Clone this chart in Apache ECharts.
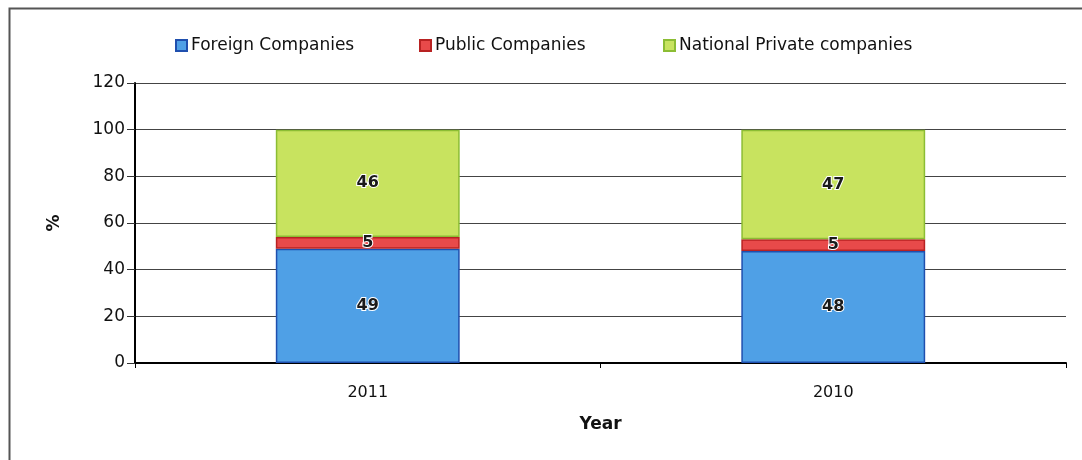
<!DOCTYPE html>
<html>
<head>
<meta charset="utf-8">
<script src="https://cdn.jsdelivr.net/npm/echarts@6/dist/echarts.min.js"></script>
<style>
  html, body { margin: 0; padding: 0; background: #ffffff; }
  #chart { width: 1082px; height: 460px; }
</style>
</head>
<body>
<div id="chart"></div>
<script>
// Share of companies by ownership type, per year (%)
const years = ['2011', '2010'];
const foreignCompanies = [49, 48];
const publicCompanies = [5, 5];
const nationalPrivate = [46, 47];
const seriesNames = ['Foreign Companies', 'Public Companies', 'National Private companies'];
const yTicks = { min: 0, max: 120, interval: 20 };

const FONT = 'DejaVu Sans';

const labelStyle = {
  show: true,
  position: 'inside',
  color: '#1a1a1a',
  fontFamily: FONT,
  fontSize: 16,
  fontWeight: 'bold',
  textBorderColor: '#ffffff',
  textBorderWidth: 2
};

function barSeries(name, data, fill, edge) {
  return {
    name: name,
    type: 'bar',
    stack: 'total',
    barWidth: '39.5%',
    data: data,
    itemStyle: { color: fill, borderColor: edge, borderWidth: 1.5 },
    label: labelStyle,
    emphasis: { disabled: true }
  };
}

// one legend block per entry so each sits at its own spot
function legendAt(left, name) {
  return {
    left: left,
    top: 32,
    itemWidth: 11,
    itemHeight: 11,
    icon: 'rect',
    selectedMode: false,
    textStyle: { fontFamily: FONT, fontSize: 17, color: '#111111', padding: [0, 0, 0, -1] },
    data: [name]
  };
}

const chart = echarts.init(document.getElementById('chart'), null, { renderer: 'canvas' });

chart.setOption({
  animation: false,
  backgroundColor: '#ffffff',
  graphic: [{
    type: 'rect',
    left: 7, top: 6,
    shape: { width: 1200, height: 600 },
    style: { fill: 'none', stroke: '#555555', lineWidth: 2 },
    z: 100
  }],
  legend: [
    legendAt(170, seriesNames[0]),
    legendAt(414, seriesNames[1]),
    legendAt(658, seriesNames[2])
  ],
  grid: { left: 135, right: 16, top: 83, bottom: 97, containLabel: false },
  xAxis: {
    type: 'category',
    data: years,
    name: 'Year',
    nameLocation: 'middle',
    nameGap: 53,
    nameTextStyle: { fontFamily: FONT, fontSize: 17, fontWeight: 'bold', color: '#111111' },
    axisLine: { lineStyle: { color: '#000000', width: 2 } },
    axisTick: { show: true, alignWithLabel: false, length: 5, lineStyle: { color: '#000000', width: 1 } },
    axisLabel: { fontFamily: FONT, fontSize: 16, color: '#111111', margin: 22 }
  },
  yAxis: {
    type: 'value',
    min: yTicks.min,
    max: yTicks.max,
    interval: yTicks.interval,
    name: '%',
    nameLocation: 'middle',
    nameGap: 72,
    nameRotate: 90,
    nameTextStyle: { fontFamily: FONT, fontSize: 17, fontWeight: 'bold', color: '#111111' },
    axisLine: { show: true, lineStyle: { color: '#000000', width: 2 } },
    axisTick: { show: true, length: 8, lineStyle: { color: '#333333', width: 1 } },
    axisLabel: { fontFamily: FONT, fontSize: 17, color: '#111111', margin: 10 },
    splitLine: { show: true, lineStyle: { color: '#444444', width: 1.2 } }
  },
  series: [
    barSeries(seriesNames[0], foreignCompanies, '#4fa0e6', '#1f4fae'),
    barSeries(seriesNames[1], publicCompanies, '#e84a4a', '#b82222'),
    barSeries(seriesNames[2], nationalPrivate, '#c8e35f', '#8cbd34')
  ]
});
</script>
</body>
</html>
